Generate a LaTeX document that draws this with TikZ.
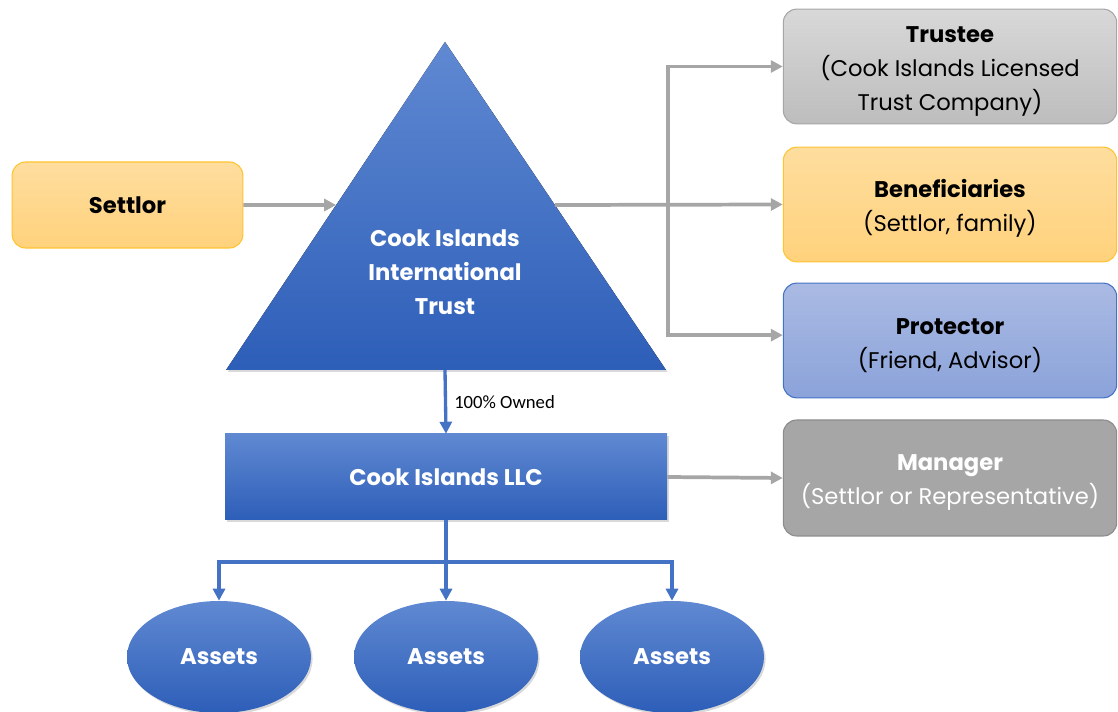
\documentclass[tikz,border=0pt]{standalone}
\usepackage{fontspec}
\setmainfont{Poppins}
\newfontfamily\labelfont{Carlito}
\usetikzlibrary{arrows.meta,calc,shapes.geometric,shadows}
\definecolor{bluetop}{HTML}{6089D2}
\definecolor{bluebot}{HTML}{2D5EB8}
\definecolor{blueline}{HTML}{4472C4}
\definecolor{arrowgray}{HTML}{A6A6A6}
\definecolor{orangetop}{HTML}{FEDD9E}
\definecolor{orangebot}{HTML}{FFD27C}
\definecolor{orangeedge}{HTML}{FFC431}
\definecolor{graytop}{HTML}{D8D8D8}
\definecolor{graybot}{HTML}{BDBDBD}
\definecolor{lbluetop}{HTML}{AABAE3}
\definecolor{lbluebot}{HTML}{8BA3DA}
\newcommand{\topstrut}{\rule{0pt}{19pt}}
\begin{document}
\begin{tikzpicture}[x=0.75pt,y=-0.75pt,>={Triangle[length=9pt,width=9pt]},
	every node/.style={font=\fontsize{17}{25.5}\selectfont},
	sidebox/.style={rounded corners=10pt,minimum width=250pt,minimum height=86pt,align=center,line width=0.8pt},
	bluefill/.style={top color=bluetop,bottom color=bluebot},
	softshadow/.style={drop shadow={opacity=0.3,shadow xshift=1.2pt,shadow yshift=-1.5pt}},
	grayarrow/.style={draw=arrowgray,line width=2.8pt},
	bluearrow/.style={draw=blueline,line width=2.5pt}]
	\useasboundingbox (0,0) rectangle (1118,712);
	% trust triangle
	\coordinate (apex) at (445,42);
	\coordinate (baseL) at (226,370);
	\coordinate (baseR) at (666,370);
	\fill[bluefill,softshadow] (apex) -- (baseR) -- (baseL) -- cycle;
	\node[text=white,align=center] (trust) at (445,272) {\textbf{Cook Islands}\\\textbf{International}\\\textbf{Trust}};
	\coordinate (trustL) at ($(apex)!0.497!(baseL)$);
	\coordinate (trustR) at ($(apex)!0.497!(baseR)$);
	\coordinate (trustB) at (445,370);
	% left and right boxes
	\node[sidebox,top color=orangetop,bottom color=orangebot,draw=orangeedge,minimum width=173pt,minimum height=64.5pt] (settlor) at (127.5,205) {\textbf{Settlor}};
	\node[sidebox,top color=graytop,bottom color=graybot,draw=arrowgray] (trustee) at (950,66.5) {\topstrut\textbf{Trustee}\\(Cook Islands Licensed\\Trust Company)};
	\node[sidebox,top color=orangetop,bottom color=orangebot,draw=orangeedge] (benef) at (950,204.5) {\topstrut\textbf{Beneficiaries}\\(Settlor, family)};
	\node[sidebox,top color=lbluetop,bottom color=lbluebot,draw=blueline] (protector) at (950,340.5) {\topstrut\textbf{Protector}\\(Friend, Advisor)};
	\node[sidebox,fill=arrowgray,draw=gray!90,text=white,minimum height=87pt] (manager) at (950,478) {\topstrut\textbf{Manager}\\(Settlor or Representative)};
	% llc and assets
	\node[bluefill,softshadow,text=white,minimum width=331.5pt,minimum height=64.5pt] (llc) at (446,477) {\textbf{Cook Islands LLC}};
	\foreach \n/\x in {1/219,2/446,3/672}
	\node[ellipse,bluefill,softshadow,text=white,minimum width=138pt,minimum height=84pt] (asset\n) at (\x,657) {\textbf{Assets}};
	\coordinate (split) at (668,205);
	\coordinate (bus) at (446,562);
	% connectors
	\draw[grayarrow,->] (settlor.east) -- (trustL);
	\draw[grayarrow,->] (trustR) -- (benef.west);
	\draw[grayarrow,->] (split) |- (trustee.west);
	\draw[grayarrow,->] (split) |- ([yshift=4pt]protector.west);
	\draw[grayarrow,->] (llc.east) -- (manager.west);
	\draw[bluearrow,->] (trustB) -- (llc.north) node[midway,right,xshift=2pt,font=\labelfont\fontsize{14}{16}\selectfont] {100\% Owned};
	\draw[bluearrow,->] (llc.south) -- (asset2.north);
	\draw[bluearrow,->] (llc.south) -- (bus) -| (asset1.north);
	\draw[bluearrow,->] (llc.south) -- (bus) -| (asset3.north);
\end{tikzpicture}
\end{document}
